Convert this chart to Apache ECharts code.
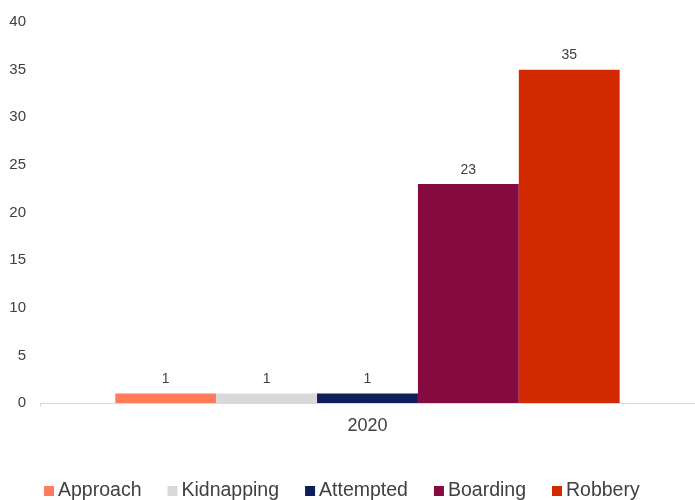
<!DOCTYPE html>
<html>
<head>
<meta charset="utf-8">
<style>
  html, body { margin: 0; padding: 0; background: #ffffff; }
  #chart { width: 695px; height: 500px; }
</style>
<script src="https://cdn.jsdelivr.net/npm/echarts@6/dist/echarts.min.js"></script>
</head>
<body>
<div id="chart"></div>
<script>
// Incident counts by type for a single year
const categories = ['2020'];
const seriesNames = ['Approach', 'Kidnapping', 'Attempted', 'Boarding', 'Robbery'];
const approach = [1];
const kidnapping = [1];
const attempted = [1];
const boarding = [23];
const robbery = [35];
const yTicks = [0, 5, 10, 15, 20, 25, 30, 35, 40];

const seriesValues = [approach, kidnapping, attempted, boarding, robbery];
const colors = ['#ff7b5a', '#d9d9d9', '#0c1f5b', '#850a3f', '#d32a00'];

const chart = echarts.init(document.getElementById('chart'), null, { renderer: 'canvas' });

chart.setOption({
  animation: false,
  textStyle: { fontFamily: 'Liberation Sans, Arial, sans-serif' },
  color: colors,
  grid: { left: 40, right: 0, top: 22, bottom: 97, containLabel: false },
  legend: {
    top: 481,
    left: 44,
    padding: 0,
    icon: 'rect',
    itemWidth: 10,
    itemHeight: 10,
    itemGap: 26,
    textStyle: { fontSize: 19.5, color: '#404040', padding: [0, 0, 0, -1] },
    data: seriesNames
  },
  xAxis: {
    type: 'category',
    data: categories,
    axisLine: { show: true, lineStyle: { color: '#d9d9d9', width: 1 } },
    axisTick: { show: true, alignWithLabel: false, length: 4, lineStyle: { color: '#d9d9d9' } },
    axisLabel: { fontSize: 18, color: '#404040', margin: 14 }
  },
  yAxis: {
    type: 'value',
    min: yTicks[0],
    max: yTicks[yTicks.length - 1],
    interval: 5,
    splitLine: { show: false },
    axisLine: { show: false },
    axisTick: { show: false },
    axisLabel: { fontSize: 15, color: '#404040', margin: 14 }
  },
  series: seriesNames.map((name, i) => ({
    name: name,
    type: 'bar',
    data: seriesValues[i],
    barGap: '0%',
    barCategoryGap: '23%',
    itemStyle: { color: colors[i] },
    label: {
      show: true,
      position: 'top',
      distance: 7,
      fontSize: 14,
      color: '#404040'
    }
  }))
});
</script>
</body>
</html>
